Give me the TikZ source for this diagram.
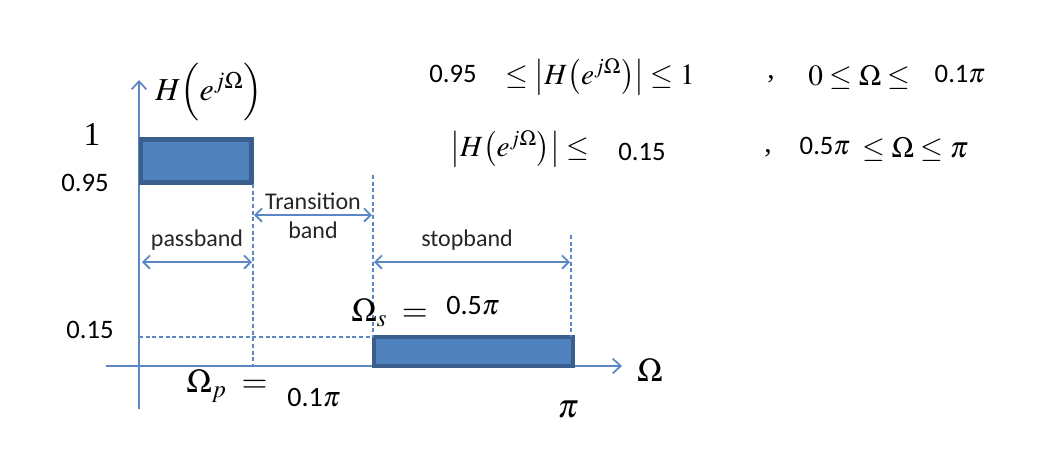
\documentclass[tikz,border=0pt]{standalone}
\usepackage{mathptmx}
\usepackage[no-math]{fontspec}
\setmainfont{Liberation Serif}
\newfontfamily\numfont{Carlito}
\usetikzlibrary{arrows.meta}

\definecolor{axisblue}{HTML}{5B87C5}
\definecolor{boxfill}{HTML}{4F81BD}
\definecolor{boxline}{HTML}{3A5E8D}

\tikzset{
  axis/.style={draw=axisblue,line width=1.5pt,-{Straight Barb[length=6pt,width=11pt,line width=1.3pt]}},
  guide/.style={draw=axisblue,line width=0.8pt,dash pattern=on 3pt off 2pt},
  bandarrow/.style={draw=axisblue,line width=1.6pt,{Straight Barb[length=5pt,width=10pt,line width=1.4pt]}-{Straight Barb[length=5pt,width=10pt,line width=1.4pt]}},
  specbox/.style={fill=boxfill,draw=boxline},
  num/.style={font=\numfont\fontsize{20}{24}\selectfont,inner sep=0pt},
  bandlbl/.style={font=\numfont\fontsize{18}{21}\selectfont,text=black!85,inner sep=0pt},
  mth/.style={font=\fontsize{22}{26}\selectfont,inner sep=0pt},
  bigmth/.style={font=\fontsize{25}{30}\selectfont,inner sep=0pt}
}

\begin{document}
\begin{tikzpicture}[x=0.75pt,y=-0.75pt]
        \useasboundingbox (0,0) rectangle (1037,462);
        % axes
        \coordinate (ybot) at (139,409);
        \coordinate (ytop) at (139,80);
        \coordinate (xleft) at (106,366);
        \coordinate (xright) at (622,366);
        \draw[axis] (ybot) -- (ytop);
        \draw[axis] (xleft) -- (xright);

        % passband and stopband boxes
        \coordinate (pA) at (141,139.5);
        \coordinate (pB) at (251.5,182.5);
        \coordinate (sA) at (374,337);
        \coordinate (sB) at (573,366);
        \draw[specbox,line width=3.7pt] (pA) rectangle (pB);
        \draw[specbox,line width=3pt] (sA) rectangle (sB);

        % dashed guides
        \coordinate (wp) at (253,366);
        \coordinate (wpTop) at (253,184);
        \coordinate (wsTop) at (373,175);
        \coordinate (ws) at (373,337);
        \coordinate (piTop) at (571,235);
        \coordinate (pi) at (571,337);
        \coordinate (lvl) at (139,337);
        \draw[guide] (wpTop) -- (wp);
        \draw[guide] (wsTop) -- (ws);
        \draw[guide] (piTop) -- (pi);
        \draw[guide] (lvl) -- (ws);

        % band arrows
        \coordinate (pbL) at (142,262);
        \coordinate (pbR) at (252,262);
        \coordinate (tbL) at (254,215);
        \coordinate (tbR) at (372,215);
        \coordinate (sbL) at (374,262);
        \coordinate (sbR) at (570,262);
        \draw[bandarrow] (pbL) -- (pbR);
        \draw[bandarrow] (tbL) -- (tbR);
        \draw[bandarrow] (sbL) -- (sbR);
        \node[bandlbl] (trans) at (313,201) {Transition};
        \node[bandlbl] (tband) at (313,230) {band};
        \node[bandlbl] (pband) at (197,240) {passband};
        \node[bandlbl] (sband) at (467,240) {stopband};

        % axis labels
        \node[mth,font=\fontsize{24}{28}\selectfont,anchor=west] (Hlbl) at (155,92) {$H\Bigl(e^{j\Omega}\Bigr)$};
        \node[bigmth] (one) at (92,134) {1};
        \node[num] (n95) at (85,183) {0.95};
        \node[num] (n15) at (90,330) {0.15};
        \node[bigmth] (Omg) at (650,370) {$\Omega$};
        \node[bigmth] (pilbl) at (568,410) {$\pi$};
        \node[bigmth,anchor=west] (wslbl) at (351,313) {$\Omega_{s}\;=$};
        \node[num,font=\numfont\fontsize{21}{24}\selectfont] (ws5) at (473,306) {0.5$\pi$};
        \node[bigmth,anchor=west] (wplbl) at (186,386) {$\Omega_{p}\;=$};
        \node[num,font=\numfont\fontsize{21}{24}\selectfont] (wp1) at (314,398) {0.1$\pi$};

        % specification
        \node[num] (s95) at (453,74) {0.95};
        \node[mth,anchor=west] (s1) at (505,77) {$\leq\bigl|H\bigl(e^{j\Omega}\bigr)\bigr|\leq 1$};
        \node[mth] (c1) at (771,79) {,};
        \node[mth,anchor=west] (s1b) at (808,77) {$0\leq\Omega\leq$};
        \node[num] (s1c) at (960,74) {0.1$\pi$};
        \node[mth,anchor=west] (s2) at (450,149) {$\bigl|H\bigl(e^{j\Omega}\bigr)\bigr|\leq$};
        \node[num] (s15) at (642,152) {0.15};
        \node[mth] (c2) at (768,153) {,};
        \node[num] (s5) at (825,146) {0.5$\pi$};
        \node[mth,anchor=west] (s2b) at (862,149) {$\leq\Omega\leq\pi$};
\end{tikzpicture}
\end{document}
